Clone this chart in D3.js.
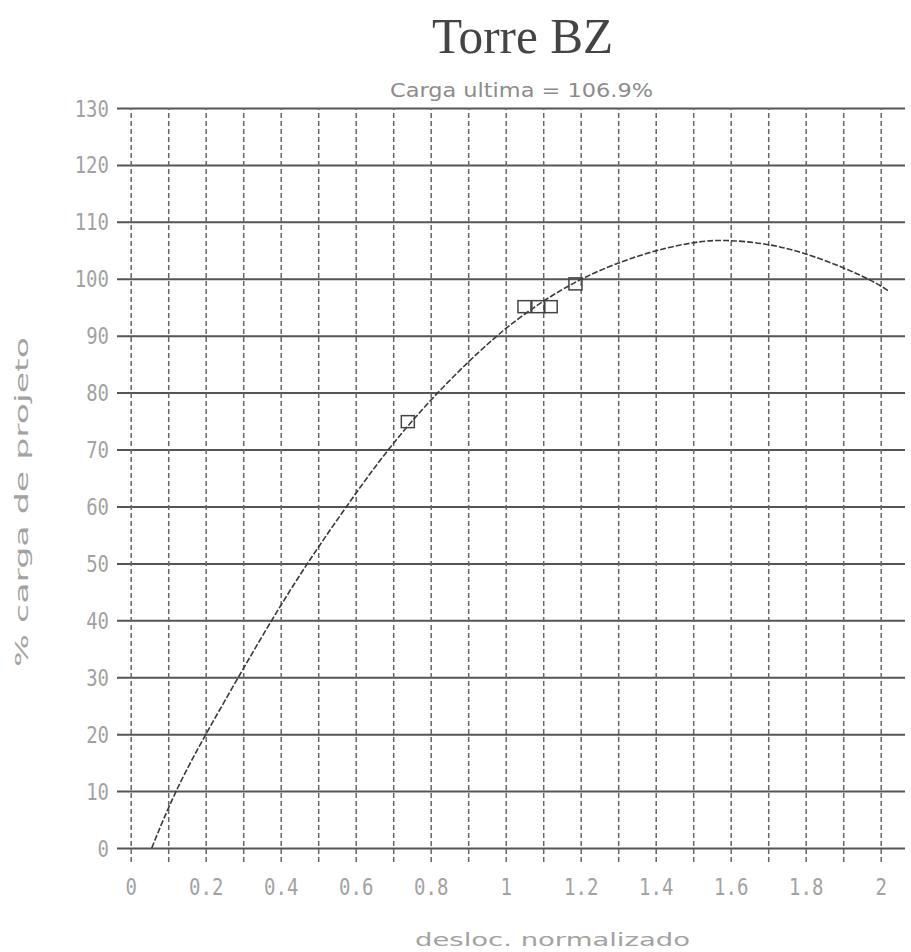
<!DOCTYPE html>
<html>
<head>
<meta charset="utf-8">
<script src="https://cdn.jsdelivr.net/npm/d3@7"></script>
<style>
  body { margin: 0; background: #fff; }
</style>
</head>
<body>
<svg id="chart" width="911" height="952"></svg>
<script>
"use strict";

    // data

var xGrid = [0, 0.1, 0.2, 0.3, 0.4, 0.5, 0.6, 0.7, 0.8, 0.9, 1.0,
             1.1, 1.2, 1.3, 1.4, 1.5, 1.6, 1.7, 1.8, 1.9, 2.0];
var xLabels = ["0", "", "0.2", "", "0.4", "", "0.6", "", "0.8", "", "1",
               "", "1.2", "", "1.4", "", "1.6", "", "1.8", "", "2"];
var yTicks = [0, 10, 20, 30, 40, 50, 60, 70, 80, 90, 100, 110, 120, 130];

var curveDesloc = [0.056, 0.118, 0.2, 0.287, 0.375, 0.47, 0.575, 0.684, 0.815, 0.972,
                   1.08, 1.2, 1.36, 1.5, 1.58, 1.7, 1.8, 1.9, 1.98, 2.02];
var curveCarga  = [0, 10, 20, 30, 40, 50, 60, 70, 80, 90,
                   95.3, 100.2, 104.4, 106.5, 106.9, 106.2, 104.5, 102, 99.6, 97.9];

var pontosDesloc = [0.739, 1.05, 1.087, 1.12, 1.186];
var pontosCarga  = [74.9, 95.1, 95.1, 95.1, 99.1];


var svg = d3.select("#chart");

var x = d3.scaleLinear().domain([0, 2]).range([130.7, 880.7]);
var y = d3.scaleLinear().domain([0, 130]).range([848, 108]);


        // horizontal grid + y labels

var yAxis = svg.append("g")
        .attr("transform", "translate(117,0)")
        .call(d3.axisLeft(y)
            .tickValues(yTicks)
            .tickSize(-788)
            .tickPadding(8));

    yAxis.select(".domain").remove();

    yAxis.selectAll(".tick line")
        .attr("stroke", "#555")
        .attr("stroke-width", 2);

    yAxis.selectAll(".tick text")
        .attr("x", 0)
        .attr("dy", 0)
        .attr("transform", "translate(-8,8) scale(1,1.25)")
        .attr("font-family", "DejaVu Sans Mono")
        .attr("font-size", 19)
        .attr("fill", "#a2a2a2");


        // vertical grid + x labels

var xAxis = svg.append("g")
        .attr("transform", "translate(0,862)")
        .call(d3.axisBottom(x)
            .tickValues(xGrid)
            .tickFormat(function (d, i) { return xLabels[i]; })
            .tickSize(-754));

    xAxis.select(".domain").remove();

    xAxis.selectAll(".tick line")
        .attr("stroke", "#666")
        .attr("stroke-width", 1.5)
        .attr("stroke-dasharray", "5,3");

    xAxis.selectAll(".tick text")
        .attr("y", 0)
        .attr("dy", 0)
        .attr("transform", "translate(0,33) scale(1,1.25)")
        .attr("font-family", "DejaVu Sans Mono")
        .attr("font-size", 19)
        .attr("fill", "#a2a2a2");


        // curve

var curve = curveDesloc.map(function (d, i) { return [d, curveCarga[i]]; });

svg.append("path")
    .datum(curve)
    .attr("fill", "none")
    .attr("stroke", "#3a3a3a")
    .attr("stroke-width", 1.6)
    .attr("stroke-dasharray", "6,2")
    .attr("d", d3.line()
        .x(function (d) { return x(d[0]); })
        .y(function (d) { return y(d[1]); })
        .curve(d3.curveBasis));


        // test points

svg.append("g")
    .selectAll("rect")
    .data(pontosDesloc)
    .join("rect")
        .attr("x", function (d) { return x(d) - 6.5; })
        .attr("y", function (d, i) { return y(pontosCarga[i]) - 6; })
        .attr("width", 13)
        .attr("height", 12)
        .attr("fill", "none")
        .attr("stroke", "#444")
        .attr("stroke-width", 1.5);


        // titles

svg.append("text")
    .attr("x", 432)
    .attr("y", 53)
    .attr("font-family", "Liberation Serif")
    .attr("font-size", 50)
    .attr("textLength", 181)
    .attr("lengthAdjust", "spacingAndGlyphs")
    .attr("fill", "#444")
    .text("Torre BZ");

svg.append("text")
    .attr("x", 390)
    .attr("y", 97)
    .attr("font-family", "DejaVu Sans")
    .attr("font-size", 19)
    .attr("textLength", 263)
    .attr("lengthAdjust", "spacingAndGlyphs")
    .attr("fill", "#8c8c8c")
    .text("Carga ultima = 106.9%");

svg.append("text")
    .attr("transform", "translate(28,502) rotate(-90)")
    .attr("text-anchor", "middle")
    .attr("font-family", "DejaVu Sans")
    .attr("font-size", 17)
    .attr("textLength", 330)
    .attr("lengthAdjust", "spacingAndGlyphs")
    .attr("fill", "#a2a2a2")
    .text("% carga de projeto");

svg.append("text")
    .attr("x", 415)
    .attr("y", 946)
    .attr("font-family", "DejaVu Sans")
    .attr("font-size", 17)
    .attr("textLength", 275)
    .attr("lengthAdjust", "spacingAndGlyphs")
    .attr("fill", "#a2a2a2")
    .text("desloc. normalizado");

</script>
</body>
</html>
